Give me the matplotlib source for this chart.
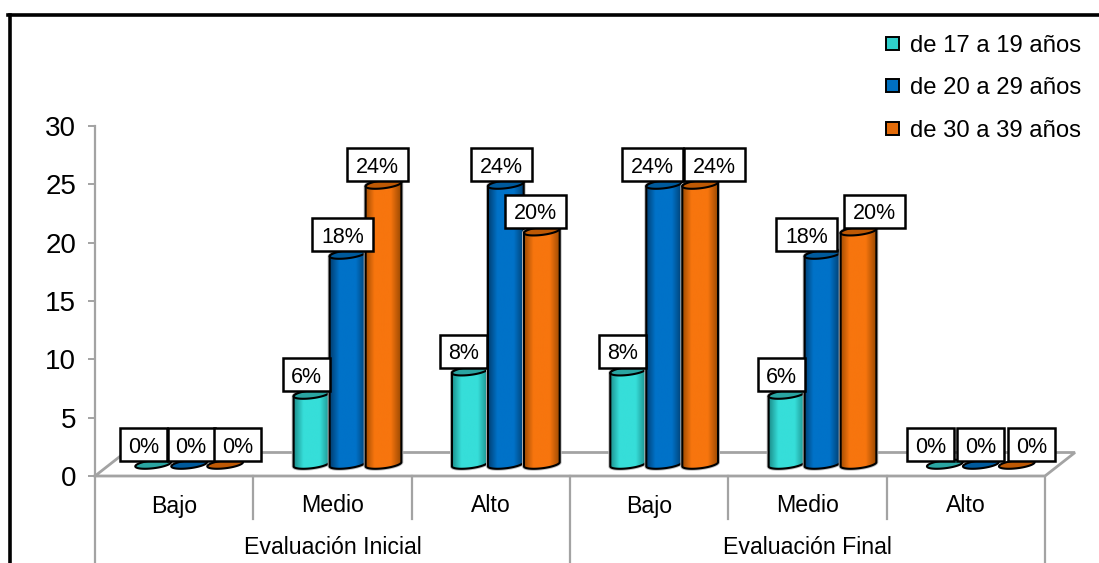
import matplotlib
matplotlib.use("Agg")
import matplotlib.pyplot as plt
import numpy as np
from matplotlib.colors import LinearSegmentedColormap
from matplotlib.lines import Line2D
from matplotlib.patches import Patch, Polygon, Rectangle

plt.rcParams["font.family"] = ["Liberation Sans", "DejaVu Sans"]

GROUPS = ["Evaluación Inicial", "Evaluación Final"]
LEVELS = ["Bajo", "Medio", "Alto", "Bajo", "Medio", "Alto"]
SERIES_NAMES = ["de 17 a 19 años", "de 20 a 29 años", "de 30 a 39 años"]
AGE_17_19 = [0, 6, 8, 8, 6, 0]
AGE_20_29 = [0, 18, 24, 24, 18, 0]
AGE_30_39 = [0, 24, 20, 24, 20, 0]
Y_TICKS = [0, 5, 10, 15, 20, 25, 30]

# hand placed label shifts in pixels, one row per series
LABEL_SHIFT = [
    [-9.5, -5, -6, -6, -5, -14],
    [2, -5, -4, -12, -16, 0],
    [12.5, -6, -6, 14, 16, 15],
]

# (dark edge, bright body, top cap)
SERIES_COLORS = [
    ("#1C8F8C", "#36DED9", "#2AA5A2"),
    ("#003F72", "#0072C8", "#005A9C"),
    ("#9C4A02", "#F7750E", "#BE5905"),
]
LEGEND_COLORS = ["#2FCFCB", "#0070C0", "#E46C0A"]
GRAY = "#A3A3A3"

W, H = 1099, 563
AX_LEFT, AX_RIGHT = 95, 1045
AX_TOP, AX_BOTTOM = 126, 476
PX_X = (AX_RIGHT - AX_LEFT) / len(LEVELS)
PX_Y = (AX_BOTTOM - AX_TOP) / max(Y_TICKS)
BAR_W = 36 / PX_X
DEPTH_X, DEPTH_Y = 30 / PX_X, 23.5 / PX_Y
TILT = np.radians(7)


def ellipse_arc(cx, cy, start, stop):
    # tilted ellipse, worked out in pixels so the tilt is not skewed by the axes scale
    t = np.linspace(start, stop, 60)
    a, b = 18.0, 4.0
    dx = a * np.cos(t) * np.cos(TILT) - b * np.sin(t) * np.sin(TILT)
    dy = a * np.cos(t) * np.sin(TILT) + b * np.sin(t) * np.cos(TILT)
    return np.column_stack([cx + dx / PX_X, cy + dy / PX_Y])


def draw_cylinder(ax, cx, base, value, colors, z):
    edge, body, cap = colors
    top = base + value
    if value > 0:
        outline = np.vstack([
            ellipse_arc(cx, base, np.pi, 2 * np.pi),
            ellipse_arc(cx, top, 0, np.pi),
        ])
        # soft gray rim under the black outline
        ax.add_patch(Polygon(outline, closed=True, fc="none", ec="#BDBDBD", lw=2.8, zorder=z - 0.1))
        clip = Polygon(outline, closed=True, fc="none", ec="black", lw=1.5, zorder=z + 0.2)
        ax.add_patch(clip)
        cmap = LinearSegmentedColormap.from_list(
            "body", [(0, edge), (0.26, body), (0.72, body), (1, edge)]
        )
        im = ax.imshow(
            np.linspace(0, 1, 128).reshape(1, -1),
            cmap=cmap,
            extent=(cx - BAR_W / 2, cx + BAR_W / 2, base - 1, top + 1),
            aspect="auto",
            zorder=z,
        )
        im.set_clip_path(clip)
    ax.add_patch(Polygon(ellipse_arc(cx, top, 0, 2 * np.pi), closed=True, fc=cap, ec="black", lw=1.5, zorder=z + 0.3))


def draw_label(ax, cx, base, value, shift):
    # white box sitting just above the bar top
    box_w = (61 if value >= 10 else 47) / PX_X
    box_h = 33 / PX_Y
    x = cx + shift / PX_X
    y0 = base + value + 3 / PX_Y
    ax.add_patch(Rectangle((x - box_w / 2, y0), box_w, box_h, fc="white", ec="black", lw=1.8, zorder=20, clip_on=False))
    ax.text(x, y0 + box_h / 2, f"{value}%", ha="center", va="center_baseline", fontsize=15.5, zorder=21)


def main() -> None:
    fig = plt.figure(figsize=(W / 100, H / 100), dpi=100)
    ax = fig.add_axes([
        AX_LEFT / W,
        (H - AX_BOTTOM) / H,
        (AX_RIGHT - AX_LEFT) / W,
        (AX_BOTTOM - AX_TOP) / H,
    ])

    # frame around the chart: only the top and left sides show
    fig.add_artist(Line2D([10 / W, 10 / W], [0, 1 - 14.7 / H], color="black", lw=2.6))
    fig.add_artist(Line2D([8.2 / W, 1], [1 - 14.7 / H, 1 - 14.7 / H], color="black", lw=2.6))

    n = len(LEVELS)
    ax.set_facecolor("none")
    for name in ("top", "right", "bottom"):
        ax.spines[name].set_visible(False)
    ax.spines["left"].set_color(GRAY)
    ax.spines["left"].set_linewidth(1.6)
    ax.set_xticks([])
    ax.set_yticks(Y_TICKS)
    ax.tick_params(axis="y", length=5, width=1.4, color=GRAY, labelsize=20, pad=8.5, labelcolor="black")

    # floor of the 3d box
    floor_x = [0, n, n + DEPTH_X, DEPTH_X, 0]
    floor_y = [0, 0, DEPTH_Y, DEPTH_Y, 0]
    ax.plot(floor_x, floor_y, color=GRAY, lw=2, clip_on=False, zorder=2, solid_joinstyle="miter")

    # two level category axis below the floor
    line_drop = 43 / PX_Y
    for i in range(n + 1):
        drop = 87 / PX_Y if i % 3 == 0 else line_drop
        ax.plot([i, i], [0, -drop], color=GRAY, lw=1.6, clip_on=False, zorder=2)
    for i, level in enumerate(LEVELS):
        ax.text(i + 0.5, -30 / PX_Y, level, ha="center", va="center", fontsize=16.7, clip_on=False)
    for g, group in enumerate(GROUPS):
        ax.text(1.5 + 3 * g, -72 / PX_Y, group, ha="center", va="center", fontsize=16.7, clip_on=False)

    series = [AGE_17_19, AGE_20_29, AGE_30_39]
    base = DEPTH_Y / 2
    for i in range(n):
        center = i + 0.5 + DEPTH_X / 2
        for s, values in enumerate(series):
            cx = center + (s - 1) * BAR_W
            draw_cylinder(ax, cx, base, values[i], SERIES_COLORS[s], 5 + s)
            draw_label(ax, cx, base, values[i], LABEL_SHIFT[s][i])

    ax.set_xlim(0, n)
    ax.set_ylim(0, max(Y_TICKS))

    handles = [Patch(fc=c, ec="black", lw=1.4) for c in LEGEND_COLORS]
    fig.legend(
        handles,
        SERIES_NAMES,
        loc="upper right",
        bbox_to_anchor=(1081 / W, 1 - 35 / H),
        frameon=False,
        fontsize=17.2,
        labelspacing=0.85,
        handlelength=0.55,
        handleheight=0.46,
        handletextpad=0.45,
        borderpad=0,
        borderaxespad=0,
    )

    fig.savefig("out.png", dpi=100)
    plt.close(fig)


if __name__ == "__main__":
    main()
